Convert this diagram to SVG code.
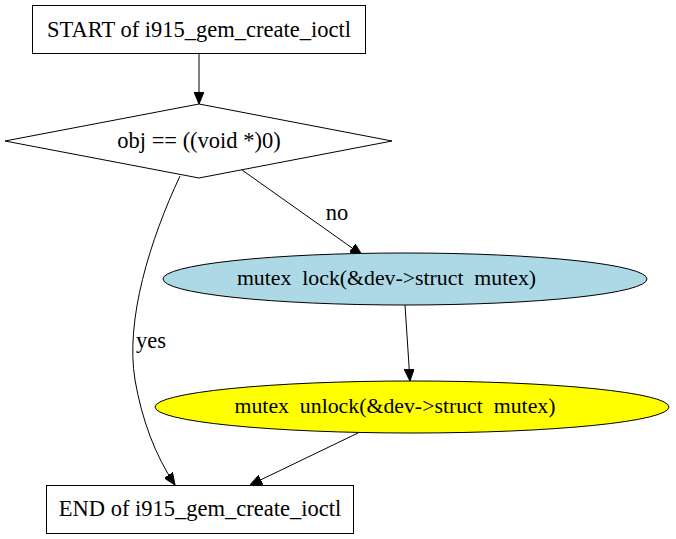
<svg xmlns="http://www.w3.org/2000/svg" width="676" height="539" viewBox="0 0 676 539">
<defs>
<marker id="ah" viewBox="0 0 12 10" refX="12" refY="5" markerWidth="12" markerHeight="10" markerUnits="userSpaceOnUse" orient="auto">
<path d="M0,0 L12,5 L0,10 z" fill="#000" stroke="#000"/>
</marker>
<style>
text{font-family:"Liberation Serif","Times New Roman",serif;font-size:22.5px;fill:#000;white-space:pre}
text.m{font-size:21.8px}
.n{stroke:#000;stroke-width:1}
.e{fill:none;stroke:#000;stroke-width:1;marker-end:url(#ah)}
</style>
</defs>
<rect width="676" height="539" fill="#fff"/>
<g id="edges">
<path class="e" d="M199,53 L199,104"/>
<path class="e" d="M242,170 L362,255"/>
<path class="e" d="M405,305 L410,381"/>
<path class="e" d="M180,176 C150,240 125,320 135,380 C142,420 155,455 175,485"/>
<path class="e" d="M358,433 L250,485"/>
<text x="337" y="220" text-anchor="middle">no</text>
<text x="151" y="348" text-anchor="middle">yes</text>
</g>
<g id="start">
<rect class="n" x="32.5" y="5.5" width="333" height="48" fill="#fff"/>
<text x="199" y="37" text-anchor="middle">START of i915_gem_create_ioctl</text>
</g>
<g id="cond">
<polygon class="n" points="199,104 392,141 199,178 5,141" fill="#fff"/>
<text x="199" y="148" text-anchor="middle">obj == ((void *)0)</text>
</g>
<g id="lock">
<ellipse class="n" cx="405" cy="279" rx="242" ry="26" fill="#add8e6"/>
<text class="m" x="386.5" y="285" text-anchor="middle">mutex  lock(&amp;dev-&gt;struct  mutex)</text>
</g>
<g id="unlock">
<ellipse class="n" cx="412" cy="407" rx="257" ry="26" fill="#ffff00"/>
<text class="m" x="395" y="413" text-anchor="middle">mutex  unlock(&amp;dev-&gt;struct  mutex)</text>
</g>
<g id="end">
<rect class="n" x="46.5" y="485.5" width="307" height="48" fill="#fff"/>
<text x="200" y="516" text-anchor="middle">END of i915_gem_create_ioctl</text>
</g>
</svg>
